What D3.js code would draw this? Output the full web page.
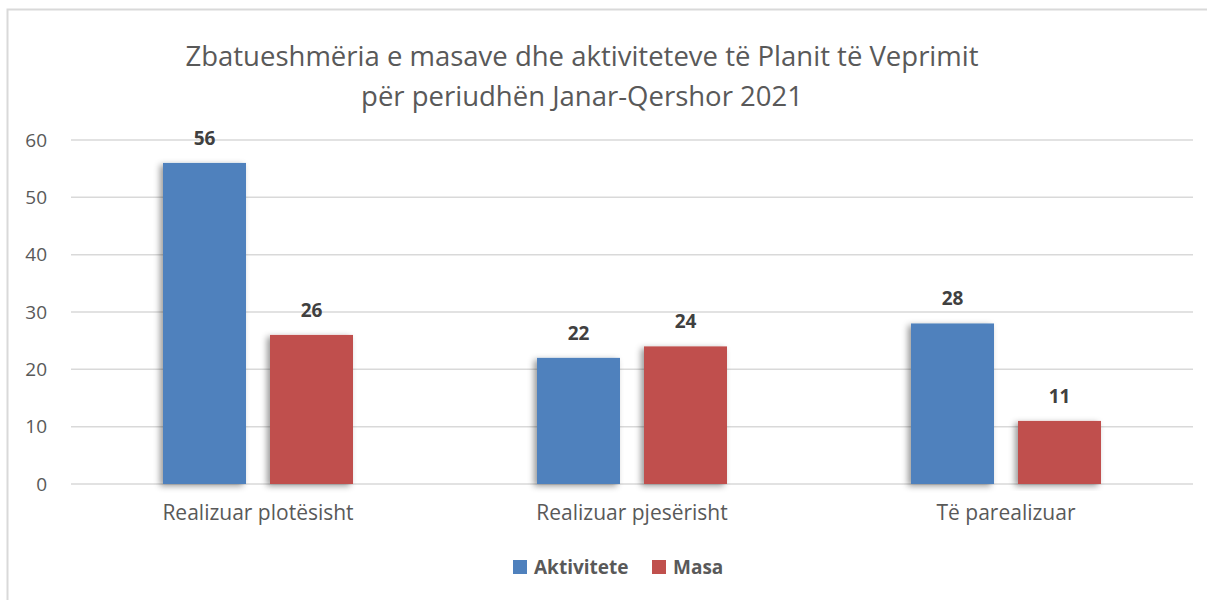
<!DOCTYPE html>
<html>
<head>
<meta charset="utf-8">
<script src="https://cdn.jsdelivr.net/npm/d3@7"></script>
<style>
  body { margin: 0; background: #fff; }
  svg { display: block; font-family: "Open Sans", sans-serif; }
</style>
</head>
<body>
<svg id="chart"></svg>
<script>
var width = 1207;
var height = 600;

var categories = ["Realizuar plotësisht", "Realizuar pjesërisht", "Të parealizuar"];
var seriesNames = ["Aktivitete", "Masa"];
var aktivitete = [56, 22, 28];
var masa = [26, 24, 11];
var yTicks = [0, 10, 20, 30, 40, 50, 60];
var colors = ["#4F81BD", "#C0504D"];

var svg = d3.select('#chart')
            .attr("width", width)
            .attr("height", height)

// drop shadow like the office chart
var defs = svg.append("defs")
defs.append("filter")
    .attr("id", "shadow")
    .attr("x", "-20%").attr("y", "-10%")
    .attr("width", "140%").attr("height", "120%")
    .append("feDropShadow")
    .attr("dx", -3).attr("dy", 2)
    .attr("stdDeviation", 3)
    .attr("flood-color", "#000")
    .attr("flood-opacity", 0.4)

// outer frame
svg.append("rect")
   .attr("x", 7.5).attr("y", 9.5)
   .attr("width", 1220).attr("height", 620)
   .attr("fill", "#fff")
   .attr("stroke", "#d9d9d9")
   .attr("stroke-width", 2)

var plotLeft = 71, plotRight = 1193, plotTop = 140, plotBottom = 484;

var x = d3.scaleBand()
          .domain(categories)
          .range([plotLeft, plotRight])

var x1 = d3.scaleBand()
           .domain(seriesNames)
           .range([0, 190])
           .paddingInner(24 / 107)

var y = d3.scaleLinear()
          .domain([0, 60])
          .range([plotBottom, plotTop])

// gridlines
svg.append("g")
   .selectAll("line")
   .data(yTicks)
   .enter()
   .append("line")
   .attr("x1", plotLeft)
   .attr("x2", plotRight)
   .attr("y1", d => y(d))
   .attr("y2", d => y(d))
   .attr("stroke", "#d9d9d9")
   .attr("stroke-width", 1.5)

// y axis labels
var yAxis = d3.axisLeft(y).tickValues(yTicks).tickSize(0).tickPadding(0)
var gy = svg.append("g")
   .attr("transform", "translate(47,0)")
   .call(yAxis)
gy.select(".domain").remove()
gy.selectAll("text")
  .attr("fill", "#595959")
  .style("font-size", "19px")
  .style("font-family", "'Open Sans', sans-serif")

// x axis labels
var xAxis = d3.axisBottom(x).tickSize(0).tickPadding(0)
var gx = svg.append("g")
   .attr("transform", "translate(0,505)")
   .call(xAxis)
gx.select(".domain").remove()
gx.selectAll("text")
  .attr("fill", "#595959")
  .style("font-size", "21px")
  .style("font-family", "'Open Sans', sans-serif")

var rows = categories.map((c, i) => ({ cat: c, values: [aktivitete[i], masa[i]] }))

var groups = svg.selectAll(".grp")
   .data(rows)
   .enter()
   .append("g")
   .attr("class", "grp")
   .attr("transform", d => "translate(" + (x(d.cat) + x.bandwidth() / 2 - 95) + ",0)")

var bars = groups.selectAll("rect")
   .data(d => d.values.map((v, j) => ({ name: seriesNames[j], value: v, i: j })))
   .enter()

bars.append("rect")
    .attr("x", d => x1(d.name))
    .attr("width", x1.bandwidth())
    .attr("y", d => y(d.value))
    .attr("height", d => y(0) - y(d.value))
    .attr("fill", d => colors[d.i])
    .attr("filter", "url(#shadow)")

bars.append("text")
    .attr("x", d => x1(d.name) + x1.bandwidth() / 2)
    .attr("y", d => y(d.value) - 18)
    .attr("text-anchor", "middle")
    .attr("fill", "#404040")
    .style("font-size", "19px")
    .style("font-weight", "bold")
    .text(d => d.value)

// title
var title = svg.append("text")
   .attr("text-anchor", "middle")
   .attr("fill", "#595959")
   .style("font-size", "27.5px")
title.append("tspan").attr("x", 582).attr("y", 66)
     .text("Zbatueshmëria e masave dhe aktiviteteve të Planit të Veprimit")
title.append("tspan").attr("x", 582).attr("y", 106)
     .text("për periudhën Janar-Qershor 2021")

// legend
var legendX = [513, 652];
var legend = svg.selectAll(".leg")
   .data(seriesNames)
   .enter()
   .append("g")
   .attr("class", "leg")
   .attr("transform", (d, i) => "translate(" + legendX[i] + ",560)")
legend.append("rect")
   .attr("width", 14).attr("height", 14)
   .attr("fill", (d, i) => colors[i])
legend.append("text")
   .attr("x", 21).attr("y", 14)
   .attr("fill", "#595959")
   .style("font-size", "19px")
   .style("font-weight", "bold")
   .text(d => d)
</script>
</body>
</html>
